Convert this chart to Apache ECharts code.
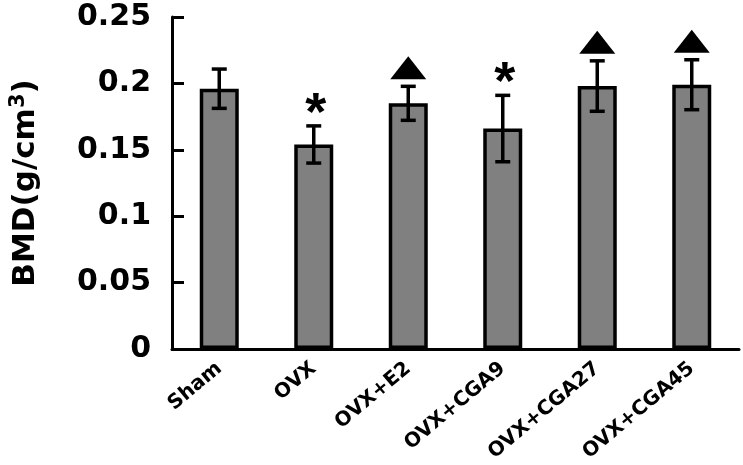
<!DOCTYPE html>
<html>
<head>
<meta charset="utf-8">
<script src="https://cdn.jsdelivr.net/npm/echarts@6/dist/echarts.min.js"></script>
<style>html,body{margin:0;padding:0;background:#fff;}#c{width:743px;height:465px;}</style>
</head>
<body>
<div id="c"></div>
<script>
const categories = ['Sham', 'OVX', 'OVX+E2', 'OVX+CGA9', 'OVX+CGA27', 'OVX+CGA45'];
const means = [0.196, 0.154, 0.185, 0.166, 0.198, 0.199];
const errors = [0.0148, 0.014, 0.0128, 0.025, 0.019, 0.0188];
const marks = ['', '*', 'triangle', '*', 'triangle', 'triangle'];
const yTicks = [0, 0.05, 0.1, 0.15, 0.2, 0.25];

const chart = echarts.init(document.getElementById('c'), null, {renderer: 'canvas'});
const FONT = 'DejaVu Sans';

const errData = categories.map((c, i) => [i, means[i], errors[i]]);
const markData = categories.map((c, i) => [i, means[i] + errors[i], marks[i]]);

chart.setOption({
  backgroundColor: '#fff',
  animation: false,
  grid: {left: 168, right: 4, top: 17, bottom: 116, containLabel: false},
  xAxis: {
    type: 'category',
    data: categories,
    axisLine: {lineStyle: {color: '#000', width: 3}},
    axisTick: {show: false},
    axisLabel: {
      rotate: 40, margin: 17, interval: 0,
      color: '#000', fontFamily: FONT, fontWeight: 'bold', fontSize: 20
    }
  },
  yAxis: {
    type: 'value',
    min: 0, max: 0.25, interval: 0.05,
    splitLine: {show: false},
    axisLine: {show: true, lineStyle: {color: '#000', width: 3}},
    axisTick: {show: true, inside: true, length: 12, lineStyle: {color: '#000', width: 3}},
    axisLabel: {
      margin: 21, color: '#000', fontFamily: FONT, fontWeight: 'bold', fontSize: 30,
      formatter: v => String(yTicks.find(t => Math.abs(t - v) < 1e-9) ?? v)
    },
    name: '{a|BMD(g/cm}{s|3}{a|)}',
    nameLocation: 'middle',
    nameRotate: 90,
    nameGap: 128,
    nameTextStyle: {
      rich: {
        a: {fontFamily: FONT, fontWeight: 'bold', fontSize: 31, color: '#000', lineHeight: 36},
        s: {fontFamily: FONT, fontWeight: 'bold', fontSize: 21, color: '#000', lineHeight: 36, verticalAlign: 'top'}
      }
    }
  },
  series: [
    {
      type: 'bar',
      data: means,
      barWidth: 39,
      itemStyle: {color: '#808080', borderColor: '#000', borderWidth: 3.5},
      z: 2
    },
    {
      type: 'custom',
      data: errData,
      z: 3,
      renderItem: function (params, api) {
        const x = api.value(0), m = api.value(1), e = api.value(2);
        const top = api.coord([x, m + e]);
        const bot = api.coord([x, m - e]);
        const cap = 7.5;
        const st = {stroke: '#000', lineWidth: 3.5};
        return {
          type: 'group',
          children: [
            {type: 'line', shape: {x1: top[0], y1: top[1], x2: bot[0], y2: bot[1]}, style: st},
            {type: 'line', shape: {x1: top[0] - cap, y1: top[1], x2: top[0] + cap, y2: top[1]}, style: st},
            {type: 'line', shape: {x1: bot[0] - cap, y1: bot[1], x2: bot[0] + cap, y2: bot[1]}, style: st}
          ]
        };
      }
    },
    {
      type: 'custom',
      data: markData,
      z: 4,
      renderItem: function (params, api) {
        const i = params.dataIndex;
        const kind = marks[i];
        const p = api.coord([api.value(0), api.value(1)]);
        if (kind === 'triangle') {
          const by = p[1] - 7;
          return {
            type: 'polygon',
            shape: {points: [[p[0] - 18, by], [p[0] + 18, by], [p[0], by - 23]]},
            style: {fill: '#000'}
          };
        } else if (kind === '*') {
          return {
            type: 'text',
            style: {
              text: '*', x: p[0] + 2, y: p[1] + 16,
              fontFamily: 'Liberation Sans', fontWeight: 'bold', fontSize: 54,
              fill: '#000', align: 'center', verticalAlign: 'bottom'
            }
          };
        }
        return null;
      }
    }
  ]
});
</script>
</body>
</html>
